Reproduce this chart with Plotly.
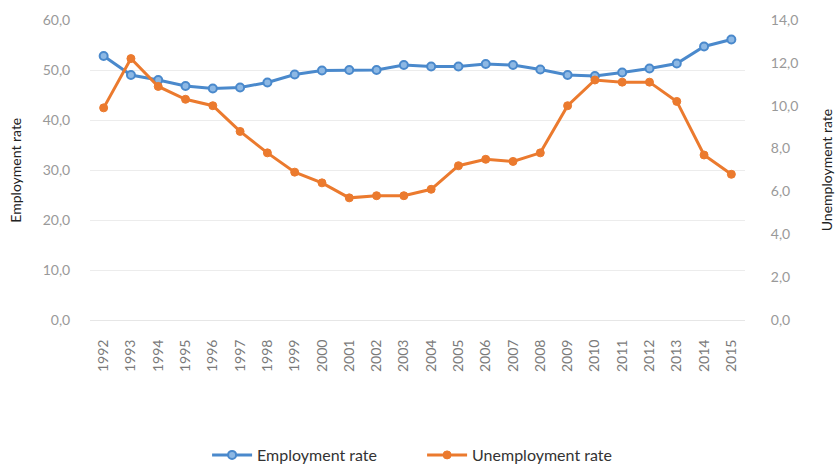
import plotly.graph_objects as go

years = [str(y) for y in range(1992, 2016)]
employment_rate = [52.8, 49.0, 48.0, 46.8, 46.3, 46.5, 47.5, 49.1, 49.9, 50.0, 50.0, 51.0,
                   50.7, 50.7, 51.2, 51.0, 50.1, 49.0, 48.8, 49.5, 50.3, 51.3, 54.7, 56.1]
unemployment_rate = [9.9, 12.2, 10.9, 10.3, 10.0, 8.8, 7.8, 6.9, 6.4, 5.7, 5.8, 5.8,
                     6.1, 7.2, 7.5, 7.4, 7.8, 10.0, 11.2, 11.1, 11.1, 10.2, 7.7, 6.8]

BLUE = "#4A89CC"
ORANGE = "#EB7A2E"
FONT = "Lato"
CLEAR = "rgba(0,0,0,0)"

fig = go.Figure()
fig.add_trace(go.Scatter(
    x=years, y=employment_rate, name="Employment rate", mode="lines+markers",
    line=dict(color=BLUE, width=3),
    marker=dict(symbol="circle", size=8, color="#8DB8E4", line=dict(color=BLUE, width=2)),
    yaxis="y"))
fig.add_trace(go.Scatter(
    x=years, y=unemployment_rate, name="Unemployment rate", mode="lines+markers",
    line=dict(color=ORANGE, width=3),
    marker=dict(symbol="circle", size=8, color=ORANGE, line=dict(color=ORANGE, width=1)),
    yaxis="y2"))

fig.update_layout(
    width=836, height=467,
    margin=dict(l=90, r=91, t=20, b=147, autoexpand=False),
    paper_bgcolor="white", plot_bgcolor="white",
    font=dict(family=FONT, size=14, color="#8c8c8c"),
    separators=", ",
    xaxis=dict(
        type="category", range=[-0.5, len(years) - 0.5], tickangle=-90,
        showgrid=False, showline=True, linecolor="#e6e6e6", linewidth=1,
        automargin=False, ticks="outside", ticklen=13, tickcolor=CLEAR,
        tickfont=dict(size=14, color="#7a7a7a"),
    ),
    yaxis=dict(
        range=[0, 60], dtick=10, tickformat=".1f", showgrid=True,
        gridcolor="#ececec", gridwidth=1, zeroline=False, showline=False,
        automargin=False, ticks="outside", ticklen=16, tickcolor=CLEAR,
        tickfont=dict(size=14, color="#999999"),
    ),
    yaxis2=dict(
        range=[0, 14], dtick=2, tickformat=".1f", overlaying="y", side="right",
        showgrid=False, zeroline=False, showline=False,
        automargin=False, ticks="outside", ticklen=22, tickcolor=CLEAR,
        tickfont=dict(size=14, color="#999999"),
    ),
    legend=dict(
        orientation="h", x=0.507, xanchor="center", y=-0.45, yanchor="middle",
        font=dict(size=16, color="#333333"), itemwidth=40,
        entrywidth=160, entrywidthmode="pixels",
    ),
    annotations=[
        dict(text="Employment rate", xref="paper", yref="paper", x=-0.115, y=0.5,
             xanchor="center", yanchor="middle", textangle=-90, showarrow=False,
             font=dict(size=14, color="#222222")),
        dict(text="Unemployment rate", xref="paper", yref="paper", x=1.124, y=0.5,
             xanchor="center", yanchor="middle", textangle=-90, showarrow=False,
             font=dict(size=14, color="#222222")),
    ],
    showlegend=True,
)

fig.write_html("out.html")
